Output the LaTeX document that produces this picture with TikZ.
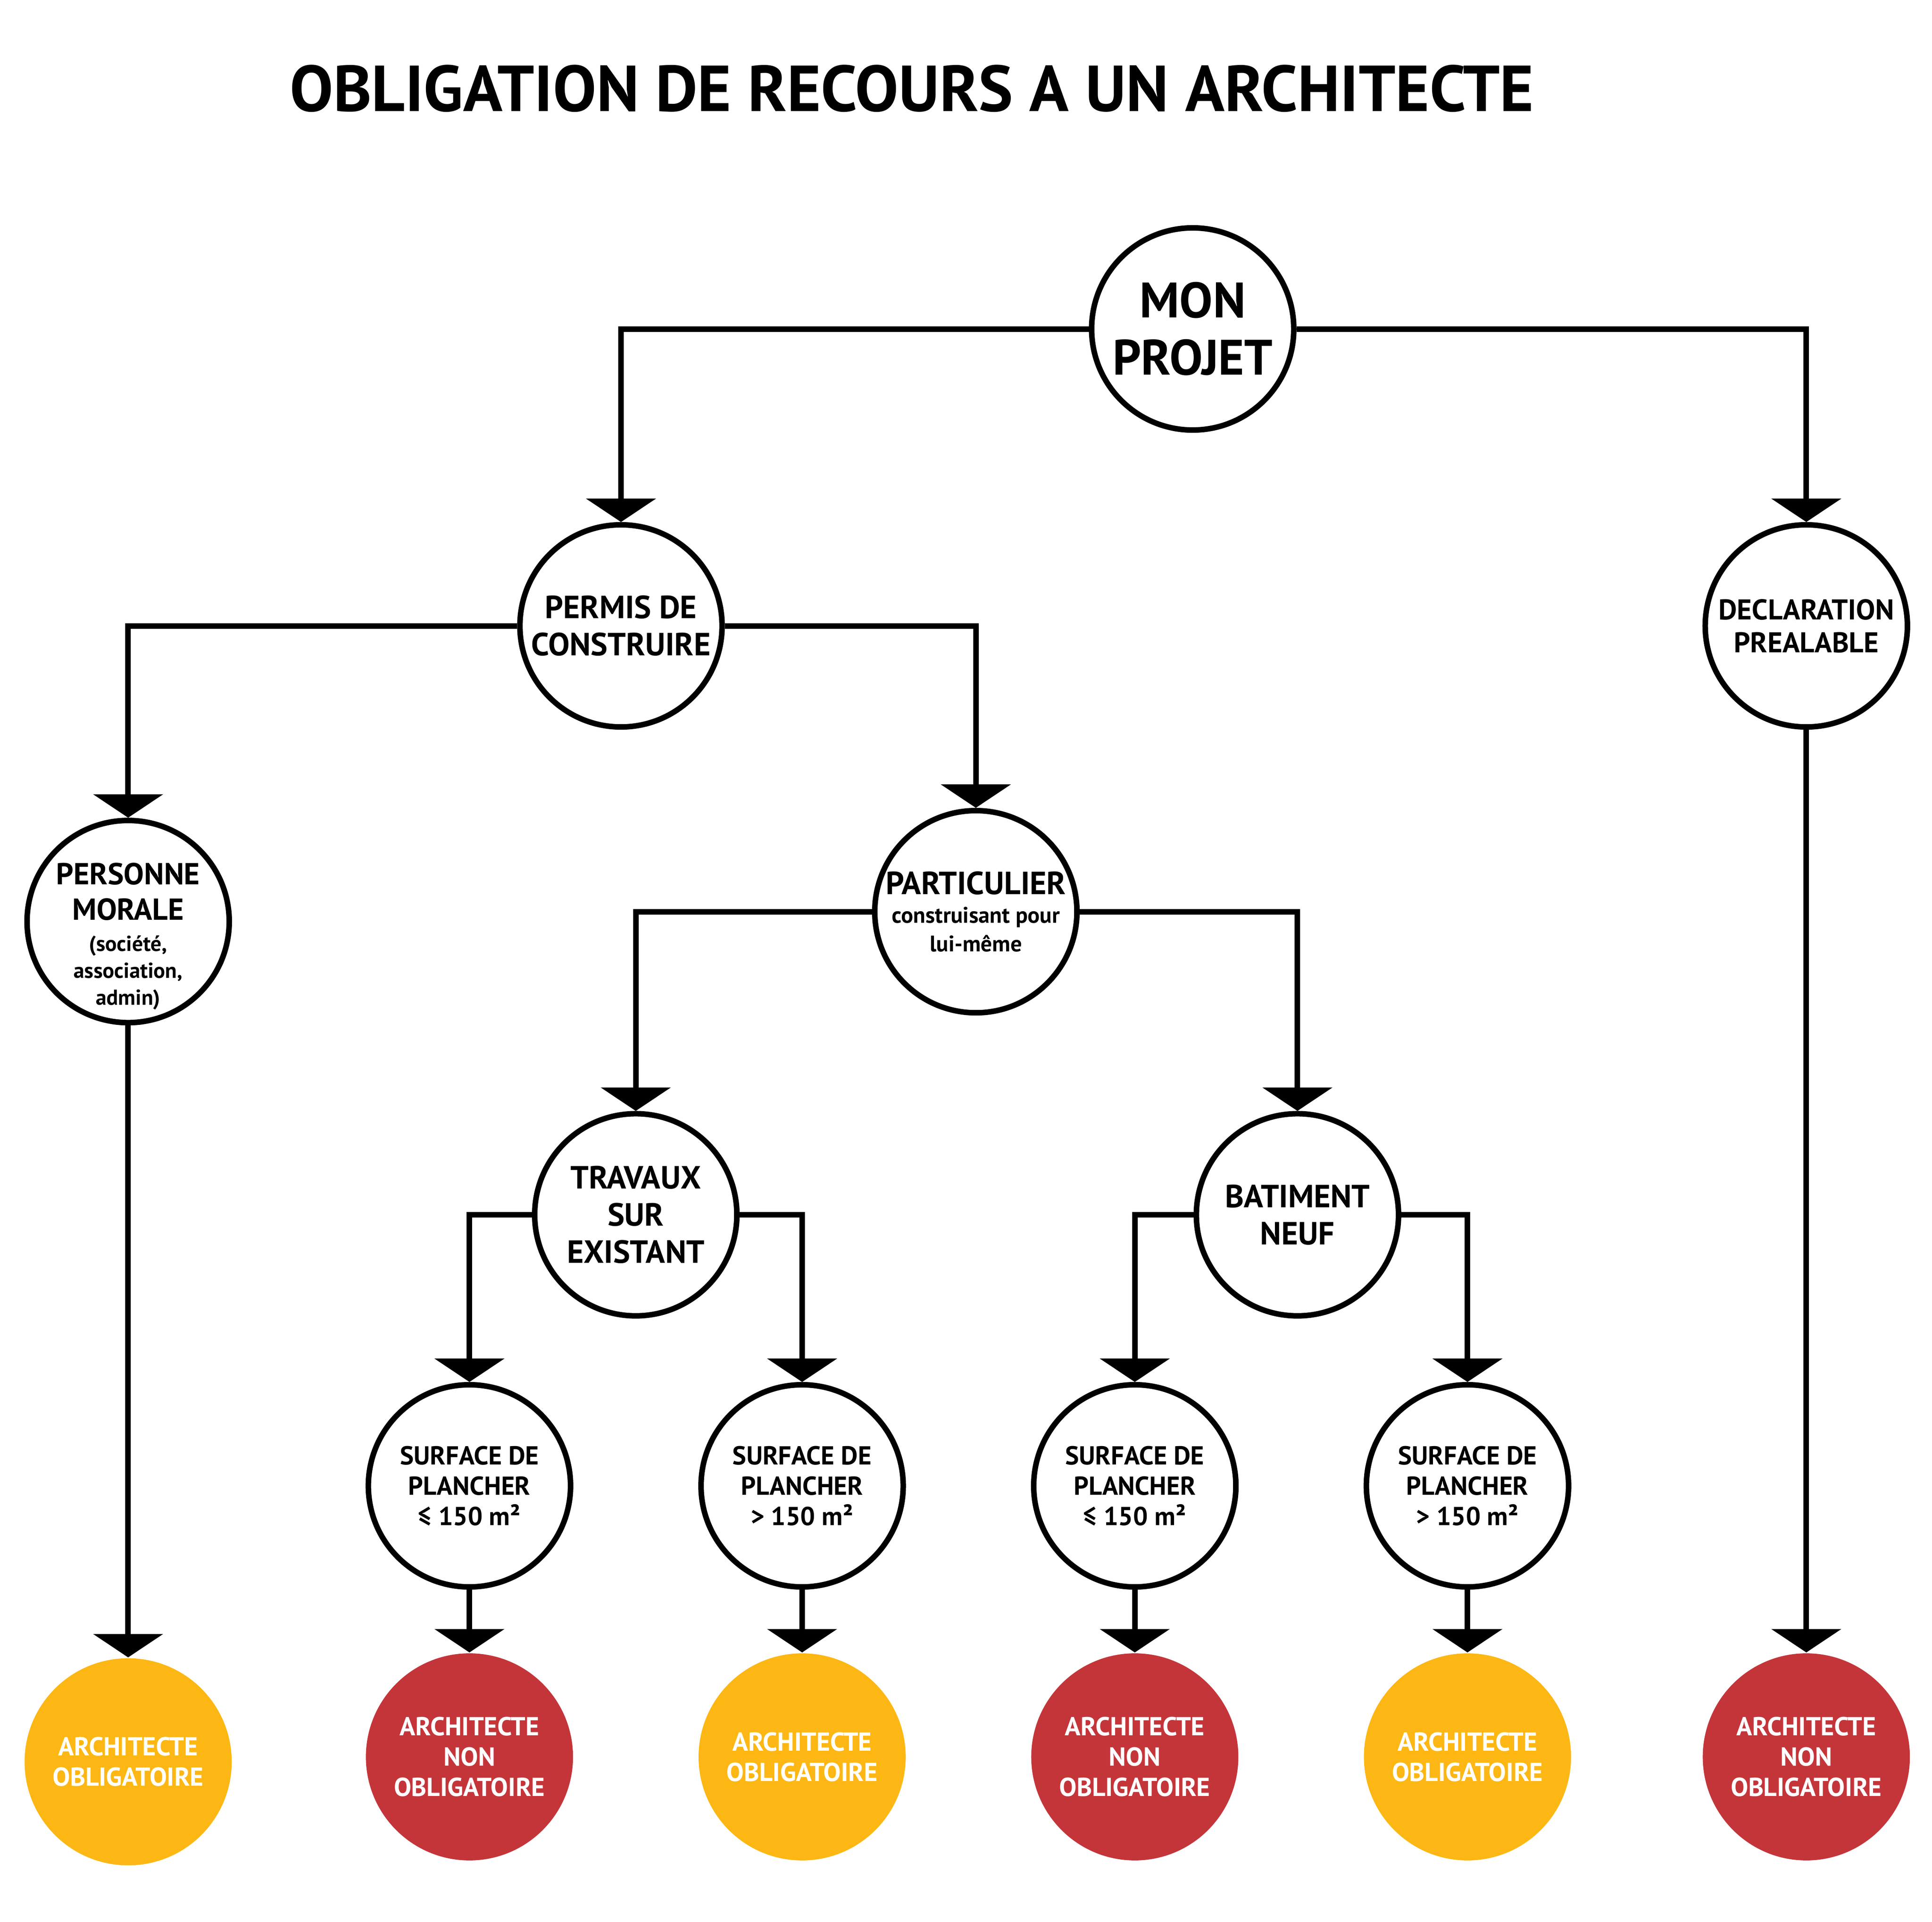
\documentclass[tikz,border=0pt]{standalone}
\usepackage{fontspec}
\setmainfont{PT Sans}
\usetikzlibrary{arrows.meta}
\definecolor{org}{HTML}{FDB714}
\definecolor{rd}{HTML}{C4353A}
\begin{document}
\begin{tikzpicture}[x=0.01cm,y=-0.01cm,
 c/.style={circle,draw,line width=0.045cm,minimum size=1.64cm,inner sep=0pt,align=center,font=\bfseries\fontsize{7.4}{8.6}\selectfont},
 s/.style={c,font=\bfseries\fontsize{6}{7}\selectfont},
 f/.style={circle,fill=#1,minimum size=1.68cm,inner sep=0pt,align=center,text=white,font=\bfseries\fontsize{6}{7}\selectfont},
 e/.style={line width=0.045cm,-{Triangle[width=0.56cm,length=0.19cm]}}]
\useasboundingbox (0,0) rectangle (1568,1560);
\node[font=\bfseries\fontsize{15}{17}\selectfont] (t) at (740,72) {OBLIGATION DE RECOURS A UN ARCHITECTE};
\node[c,font=\bfseries\fontsize{11.5}{13.2}\selectfont] (mp) at (968,267) {MON\\PROJET};
\node[c] (pc) at (504,508) {PERMIS DE\\CONSTRUIRE};
\node[c,font=\bfseries\fontsize{6.6}{7.6}\selectfont] (dp) at (1466,508) {DECLARATION\\PREALABLE};
\node[circle,draw,line width=0.045cm,minimum size=1.64cm,inner sep=0pt] (pm) at (104,748) {};
\node[align=center,font=\bfseries\fontsize{7}{8.2}\selectfont,inner sep=0pt] (pmt) at (104,760) {PERSONNE\\MORALE\\[-1pt]{\fontsize{5}{6}\selectfont(société,}\\[-2pt]{\fontsize{5}{6}\selectfont association,}\\[-2pt]{\fontsize{5}{6}\selectfont admin)}};
\node[c] (pa) at (792,740) {PARTICULIER\\[-2pt]{\fontsize{5.2}{6.2}\selectfont construisant pour}\\[-2pt]{\fontsize{5.2}{6.2}\selectfont lui-même}};
\node[c] (tr) at (516,986) {TRAVAUX\\SUR\\EXISTANT};
\node[c] (bn) at (1053,986) {BATIMENT\\NEUF};
\node[s] (s1) at (381,1206) {SURFACE DE\\PLANCHER\\≤ 150 m²};
\node[s] (s2) at (651,1206) {SURFACE DE\\PLANCHER\\> 150 m²};
\node[s] (s3) at (921,1206) {SURFACE DE\\PLANCHER\\≤ 150 m²};
\node[s] (s4) at (1191,1206) {SURFACE DE\\PLANCHER\\> 150 m²};
\node[f=org] (b0) at (104,1430) {ARCHITECTE\\OBLIGATOIRE};
\node[f=rd] (b1) at (381,1426) {ARCHITECTE\\NON\\OBLIGATOIRE};
\node[f=org] (b2) at (651,1426) {ARCHITECTE\\OBLIGATOIRE};
\node[f=rd] (b3) at (921,1426) {ARCHITECTE\\NON\\OBLIGATOIRE};
\node[f=org] (b4) at (1191,1426) {ARCHITECTE\\OBLIGATOIRE};
\node[f=rd] (b5) at (1466,1426) {ARCHITECTE\\NON\\OBLIGATOIRE};
\draw[e] (mp.west) -| (pc.north);
\draw[e] (mp.east) -| (dp.north);
\draw[e] (pc.west) -| (pm.north);
\draw[e] (pc.east) -| (pa.north);
\draw[e] (pa.west) -| (tr.north);
\draw[e] (pa.east) -| (bn.north);
\draw[e] (tr.west) -| (s1.north);
\draw[e] (tr.east) -| (s2.north);
\draw[e] (bn.west) -| (s3.north);
\draw[e] (bn.east) -| (s4.north);
\draw[e] (pm.south) -- (b0.north);
\draw[e] (s1.south) -- (b1.north);
\draw[e] (s2.south) -- (b2.north);
\draw[e] (s3.south) -- (b3.north);
\draw[e] (s4.south) -- (b4.north);
\draw[e] (dp.south) -- (b5.north);
\end{tikzpicture}
\end{document}
